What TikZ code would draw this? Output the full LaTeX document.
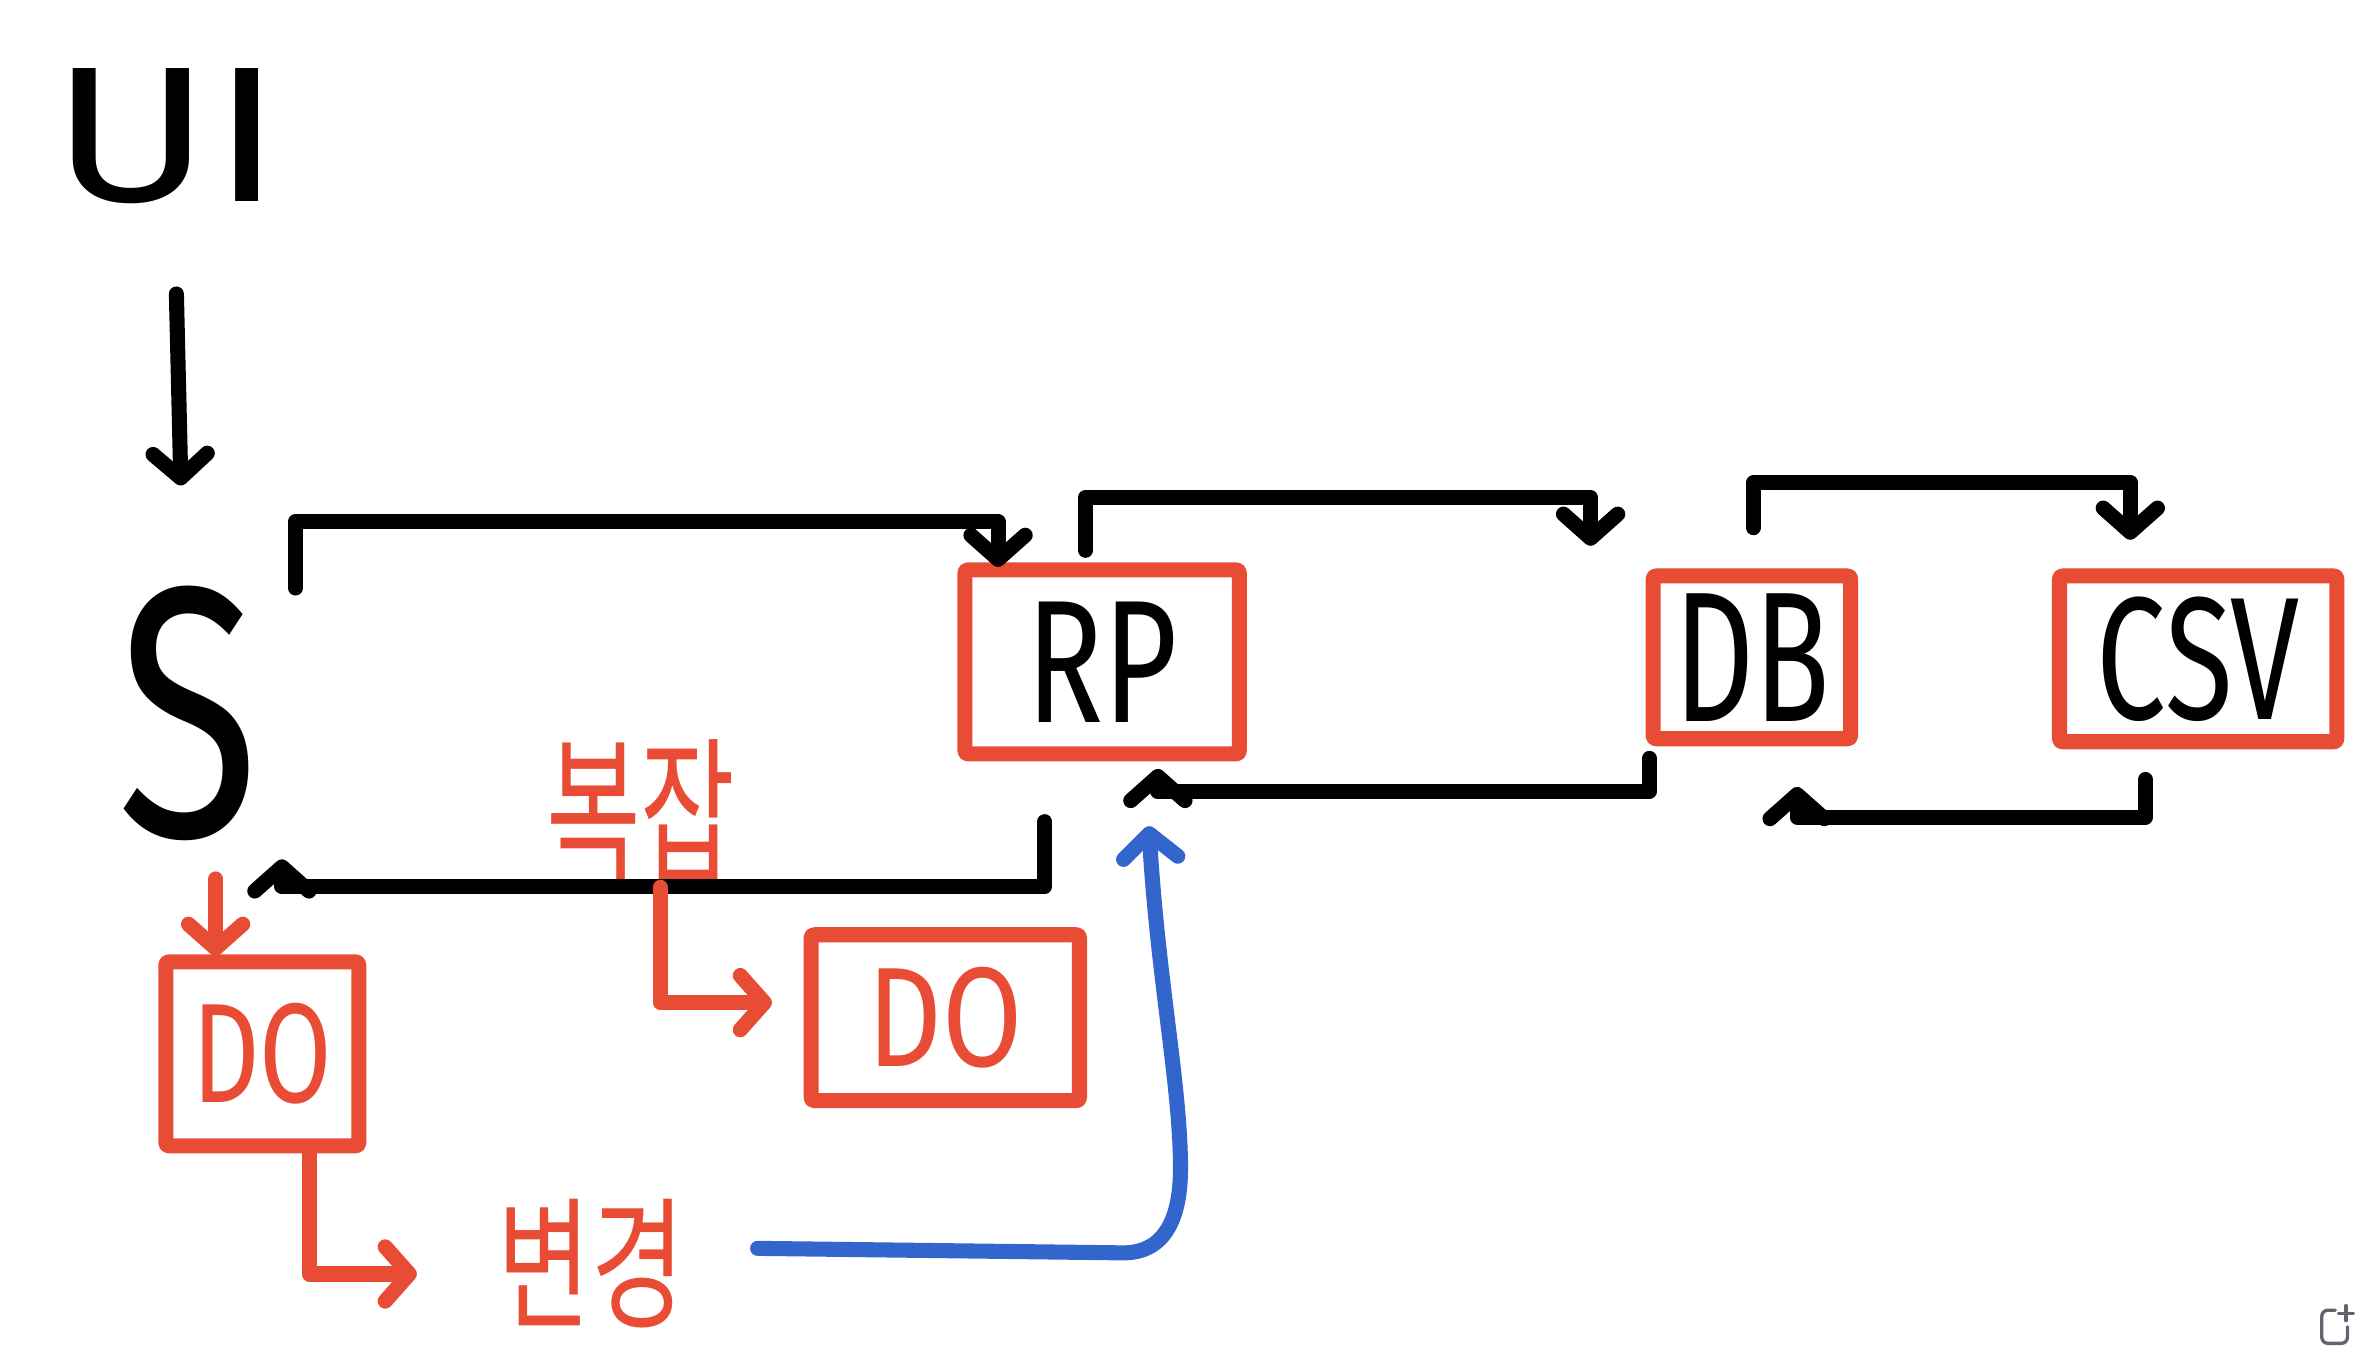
\documentclass[tikz,border=0pt]{standalone}
\usepackage{graphicx}
\usepackage{fontspec}
\setmainfont{Fira Sans}
\newfontfamily\krfont{Noto Sans CJK KR}
\usetikzlibrary{arrows.meta,calc}
\definecolor{redpen}{RGB}{233,76,53}
\definecolor{bluepen}{RGB}{51,102,204}
\definecolor{icongray}{RGB}{100,100,112}
\newcommand\hwtext[3]{\scalebox{#1}[1]{\fontsize{#2}{#2}\selectfont #3}}
\begin{document}
\begin{tikzpicture}[x=1pt,y=-1pt,line cap=round,line join=round,
  blk/.style={line width=10pt,draw=black},
  redl/.style={line width=10pt,draw=redpen},
  bluel/.style={line width=10pt,draw=bluepen},
  tip/.style={-{Straight Barb[length=16pt,width=36pt,round]}},
  lbl/.style={inner sep=0pt,outer sep=0pt},
  box/.style={draw=redpen,line width=10pt,inner sep=0pt,outer sep=0pt,rounded corners=2pt}]
\fill[white] (0,0) rectangle (1568,898);
\useasboundingbox (0,0) rectangle (1568,898);
% text nodes
\node[lbl,minimum width=133,minimum height=90] (UI) at (111,90) {\hwtext{1.25}{128}{UI}};
\node[lbl,minimum width=95,minimum height=170] (S) at (125,473) {\scalebox{1.15}[1.58]{\fontsize{150}{150}\selectfont S}};
\node[lbl,minimum width=134,minimum height=95,text=redpen] (cplx) at (425,538) {\krfont\hwtext{0.65}{105}{복잡}};
\node[lbl,minimum width=135,minimum height=85,text=redpen] (chg) at (392,838) {\krfont\hwtext{0.71}{95}{변경}};
% boxes
\node[box,minimum width=182,minimum height=122,text=black] (RP) at (731,439) {\hwtext{0.73}{116}{RP}};
\node[box,minimum width=131,minimum height=108,text=black] (DB) at (1162,436) {\hwtext{0.67}{123}{DB}};
\node[box,minimum width=184,minimum height=110,text=black] (CSV) at (1458,437) {\hwtext{0.71}{116}{CSV}};
\node[box,minimum width=128,minimum height=122,text=redpen] (DOa) at (174,699) {\hwtext{0.74}{94}{DO}};
\node[box,minimum width=178,minimum height=110,text=redpen] (DOb) at (627,675) {\hwtext{0.82}{94}{DO}};
% black connectors
\draw[blk,tip] ($(UI.south)+(6,60)$) -- ($(S.north)+(-5,-66)$);
\draw[blk,tip] ($(S.north)+(71,2)$) -- ++(0,-44) -| ($(RP.north)+(-69,-2)$);
\draw[blk,tip] ($(RP.north)+(-11,-13)$) -- ++(0,-35) -| ($(DB.north)+(-107,-20)$);
\draw[blk,tip] ($(DB.north)+(1,-32)$) -- ++(0,-30) -| ($(CSV.north)+(-45,-24)$);
\draw[blk,tip] ($(CSV.south)+(-35,25)$) -- ++(0,25) -| ($(DB.south)+(30,32)$);
\draw[blk,tip] ($(DB.south)+(-68,13)$) -- ++(0,22) -| ($(RP.south)+(37,10)$);
\draw[blk,tip] ($(RP.south)+(-38,45)$) -- ++(0,43) -| ($(S.south)+(62,12)$);
% red connectors
\draw[redl,tip] ($(S.south)+(18,25)$) -- ($(DOa.north)+(-31,-4)$);
\draw[redl,tip] ($(DOa.south)+(31,5)$) |- ($(chg.west)+(-48,7)$);
\draw[redl,tip] ($(cplx.south)+(13,3)$) |- ($(DOb.west)+(-26,-10)$);
% blue connector
\draw[bluel,tip] ($(chg.east)+(43,-10)$) -- (745,831)
  .. controls (770,831) and (783,812) .. (783,775)
  .. controls (783,720) and (768,650) .. ($(RP.south)+(31,48)$);
% corner icon
\draw[icongray,line width=2.2pt,rounded corners=4pt] (1549,869) -- (1540,869) -- (1540,891) -- (1557,891) -- (1557,880);
\draw[icongray,line width=2.2pt] (1556,866) -- (1556,876) (1551,871) -- (1561,871);
\end{tikzpicture}
\end{document}
